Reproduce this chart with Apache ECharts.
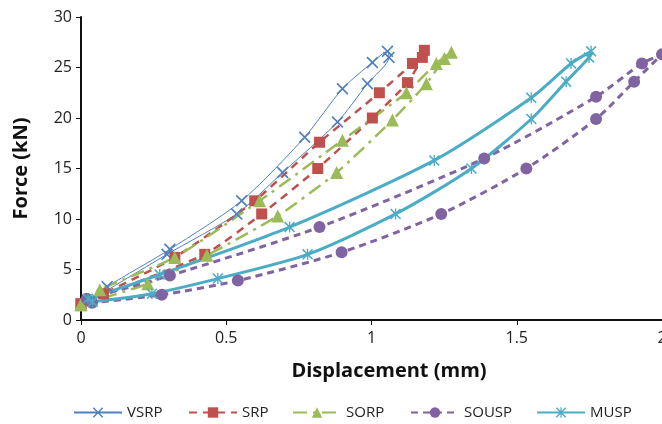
<!DOCTYPE html>
<html>
<head>
<meta charset="utf-8">
<script src="https://cdn.jsdelivr.net/npm/echarts@6/dist/echarts.min.js"></script>
<style>
  html, body { margin: 0; padding: 0; background: #fff; }
  #chart { width: 662px; height: 424px; }
</style>
</head>
<body>
<div id="chart"></div>
<script>
// points in path order: loading branch then unloading branch, [displacement mm, force kN]
var vsrp = [[0.03, 1.9], [0.09, 3.3], [0.306, 7.0], [0.553, 11.8], [0.77, 18.1], [0.90, 22.9], [1.003, 25.5], [1.055, 26.6],
  [1.06, 26.0], [0.986, 23.4], [0.883, 19.6], [0.694, 14.6], [0.536, 10.5], [0.296, 6.5], [0.03, 1.9]];
var srp = [[0, 1.6], [0.077, 2.6], [0.323, 6.2], [0.598, 11.8], [0.821, 17.6], [1.027, 22.5], [1.141, 25.4], [1.182, 26.7],
  [1.175, 26.0], [1.124, 23.5], [1.003, 20.0], [0.815, 15.0], [0.622, 10.5], [0.426, 6.5], [0, 1.6]];
var sorp = [[0, 1.5], [0.065, 3.0], [0.323, 6.2], [0.615, 11.8], [0.90, 17.8], [1.12, 22.5], [1.223, 25.4], [1.275, 26.5],
  [1.251, 25.9], [1.189, 23.4], [1.072, 19.8], [0.88, 14.6], [0.677, 10.3], [0.433, 6.4], [0.23, 3.6], [0, 1.5]];
var sousp = [[0.02, 2.1], [0.306, 4.4], [0.821, 9.2], [1.388, 16.0], [1.773, 22.1], [1.931, 25.4], [2.0, 26.3],
  [1.904, 23.6], [1.773, 19.9], [1.533, 15.0], [1.24, 10.5], [0.897, 6.7], [0.54, 3.9], [0.278, 2.5], [0.038, 1.7]];
var musp = [[0.024, 2.1], [0.271, 4.5], [0.718, 9.2], [1.216, 15.8], [1.55, 22.0], [1.687, 25.4], [1.756, 26.6],
  [1.749, 26.0], [1.67, 23.6], [1.55, 19.9], [1.344, 15.0], [1.083, 10.5], [0.78, 6.5], [0.471, 4.1], [0.244, 2.6], [0.04, 1.8]];

var names = ['VSRP', 'SRP', 'SORP', 'SOUSP', 'MUSP'];
var legendLeft = [73, 188, 292, 410, 536];

// marker shapes like excel's x and star
var xMark = 'path://M0,1L1,0L5,4L9,0L10,1L6,5L10,9L9,10L5,6L1,10L0,9L4,5Z';
var starMark = 'path://M0,1L1,0L5,4L9,0L10,1L6,5L10,9L9,10L5,6L1,10L0,9L4,5Z M4.4,0L5.6,0L5.6,10L4.4,10Z';

var font = 'Open Sans';

var myChart = echarts.init(document.getElementById('chart'));

// one legend per item so each sits where the original has it
var legends = names.map(function (n, i) {
  return {
    data: [n],
    left: legendLeft[i],
    top: 405,
    padding: 0,
    itemWidth: 48,
    itemHeight: 13,
    textStyle: { fontSize: 15, color: '#222', fontFamily: font }
  };
});

var option = {
  animation: false,
  textStyle: { fontFamily: font },
  grid: { left: 81, right: 0, top: 17, bottom: 104, outerBoundsMode: 'none' },
  legend: legends,
  xAxis: {
    type: 'value',
    min: 0,
    max: 2,
    interval: 0.5,
    name: 'Displacement (mm)',
    nameLocation: 'middle',
    nameGap: 41,
    nameTextStyle: { fontSize: 20, fontWeight: 'bold', color: '#111', padding: [0, 0, 0, 35] },
    splitLine: { show: false },
    axisLine: { lineStyle: { color: '#111', width: 2 } },
    axisTick: { show: true, length: 5, lineStyle: { color: '#111' } },
    axisLabel: { fontSize: 16, color: '#222', margin: 10 }
  },
  yAxis: {
    type: 'value',
    min: 0,
    max: 30,
    interval: 5,
    name: 'Force (kN)',
    nameLocation: 'middle',
    nameGap: 50,
    nameTextStyle: { fontSize: 20, fontWeight: 'bold', color: '#111' },
    splitLine: { show: false },
    axisLine: { show: true, lineStyle: { color: '#111', width: 2 } },
    axisTick: { show: true, length: 5, lineStyle: { color: '#111' } },
    axisLabel: { fontSize: 16, color: '#222', margin: 9 }
  },
  series: [
    {
      name: 'VSRP', type: 'line', data: vsrp, smooth: 0.25,
      symbol: xMark, symbolSize: 12,
      lineStyle: { color: '#4F81BD', width: 1 },
      itemStyle: { color: '#4F81BD' }
    },
    {
      name: 'SRP', type: 'line', data: srp, smooth: 0.2,
      symbol: 'rect', symbolSize: 11,
      lineStyle: { color: '#C0504D', width: 2.5, type: [8, 6] },
      itemStyle: { color: '#C0504D' }
    },
    {
      name: 'SORP', type: 'line', data: sorp, smooth: 0.2,
      symbol: 'triangle', symbolSize: 13,
      lineStyle: { color: '#9BBB59', width: 2.5, type: [14, 6, 3, 6] },
      itemStyle: { color: '#9BBB59' }
    },
    {
      name: 'SOUSP', type: 'line', data: sousp, smooth: 0.25,
      symbol: 'circle', symbolSize: 12,
      lineStyle: { color: '#8064A2', width: 3, type: [7, 5] },
      itemStyle: { color: '#8064A2' }
    },
    {
      name: 'MUSP', type: 'line', data: musp, smooth: 0.25,
      symbol: starMark, symbolSize: 11,
      lineStyle: { color: '#4BACC6', width: 3 },
      itemStyle: { color: '#4BACC6' }
    }
  ]
};

myChart.setOption(option);
</script>
</body>
</html>
